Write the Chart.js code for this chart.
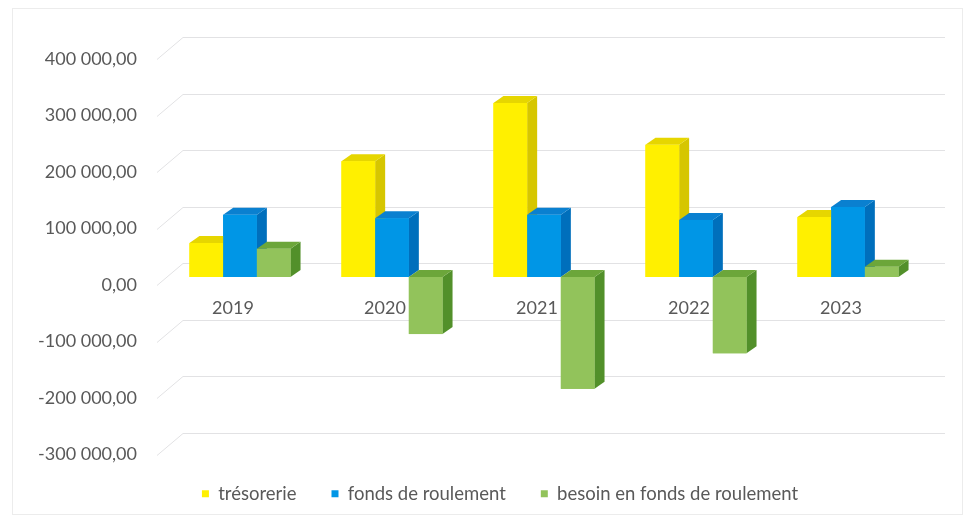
<!DOCTYPE html>
<html>
<head>
<meta charset="utf-8">
<script src="https://cdn.jsdelivr.net/npm/chart.js@4.4.1/dist/chart.umd.min.js"></script>
<style>
  html, body { margin: 0; padding: 0; background: #fff; }
</style>
</head>
<body>
<canvas id="chart" width="970" height="521"></canvas>
<script>
const years = ['2019', '2020', '2021', '2022', '2023'];
const tresorerie = [60000, 205000, 308000, 234000, 106000];
const fondsRoulement = [110000, 104000, 110000, 101000, 124000];
const besoinFonds = [50000, -101000, -198000, -135000, 18000];
const yMin = -300000;
const yMax = 400000;
const yStep = 100000;

const textColor = '#595959';
const axisFont = { family: 'Lato', size: 18 };
const legendFont = { family: 'Lato', size: 18.5 };

// front / side / top colours for the fake 3D boxes
const faces = [
  { front: '#FFF000', side: '#D6C600', top: '#E6D600' },
  { front: '#0096E6', side: '#006FBC', top: '#0A80D0' },
  { front: '#92C35B', side: '#52902A', top: '#6CA63A' },
];
const DX = 10, DY = -7;

function fmt(v) {
  const parts = Math.abs(v).toFixed(2).split('.');
  const int = parts[0].replace(/\B(?=(\d{3})+(?!\d))/g, ' ');
  return (v < 0 ? '-' : '') + int + ',' + parts[1];
}

function poly(ctx, pts, color) {
  ctx.fillStyle = color;
  ctx.beginPath();
  ctx.moveTo(pts[0][0], pts[0][1]);
  for (let k = 1; k < pts.length; k++) ctx.lineTo(pts[k][0], pts[k][1]);
  ctx.closePath();
  ctx.fill();
}

const backGrid = {
  id: 'backGrid',
  afterLayout(chart) {
    // legend sits right of centre in the original
    const l = chart.legend;
    l.left += 38; l.right += 38;
    l.top += 3; l.bottom += 3;
  },
  beforeDraw(chart) {
    const ctx = chart.ctx;
    ctx.save();
    ctx.strokeStyle = '#ececec';
    ctx.lineWidth = 1;
    ctx.strokeRect(12.5, 8.5, 950, 506);
    ctx.restore();
  },
  beforeDatasetsDraw(chart) {
    const { ctx, chartArea: a, scales: { y } } = chart;
    ctx.save();
    ctx.strokeStyle = '#e2e2e4';
    ctx.lineWidth = 1;
    y.ticks.forEach(t => {
      const py = Math.round(y.getPixelForValue(t.value)) + 0.5;
      ctx.beginPath();
      ctx.moveTo(a.left - 7, py + 8);
      ctx.lineTo(a.left + 19, py - 14);
      ctx.lineTo(a.right + 21, py - 14);
      ctx.stroke();
    });
    ctx.restore();
  }
};

const bars3d = {
  id: 'bars3d',
  afterDatasetsDraw(chart) {
    const ctx = chart.ctx;
    ctx.save();
    for (let i = 0; i < chart.data.labels.length; i++) {
      chart.data.datasets.forEach((ds, d) => {
        const el = chart.getDatasetMeta(d).data[i];
        const { x, y, base, width } = el.getProps(['x', 'y', 'base', 'width'], true);
        const x1 = x - width / 2, x2 = x + width / 2;
        const top = Math.min(y, base), bot = Math.max(y, base);
        const c = faces[d];
        poly(ctx, [[x2, top], [x2 + DX, top + DY], [x2 + DX, bot + DY], [x2, bot]], c.side);
        poly(ctx, [[x1, top], [x2, top], [x2 + DX, top + DY], [x1 + DX, top + DY]], c.top);
        ctx.fillStyle = c.front;
        ctx.fillRect(x1, top, width, bot - top);
      });
    }
    ctx.restore();
  }
};

new Chart(document.getElementById('chart'), {
  type: 'bar',
  data: {
    labels: years,
    datasets: [
      { label: 'trésorerie', data: tresorerie, backgroundColor: faces[0].front },
      { label: 'fonds de roulement', data: fondsRoulement, backgroundColor: faces[1].front },
      { label: 'besoin en fonds de roulement', data: besoinFonds, backgroundColor: faces[2].front },
    ]
  },
  options: {
    responsive: false,
    animation: false,
    datasets: { bar: { categoryPercentage: 0.665, barPercentage: 1, borderWidth: 0 } },
    layout: { padding: { top: 51, right: 46, bottom: 11, left: 0 } },
    plugins: {
      legend: {
        position: 'bottom',
        labels: { boxWidth: 7, boxHeight: 7, padding: 35, color: textColor, font: legendFont }
      },
      tooltip: { enabled: false }
    },
    scales: {
      x: {
        position: { y: 0 },
        grid: { display: false, drawTicks: false },
        border: { display: false },
        ticks: { padding: 20, labelOffset: -7, color: textColor, font: axisFont }
      },
      y: {
        min: yMin,
        max: yMax,
        afterFit(scale) { scale.width = 164; },
        grid: { display: false, drawTicks: false },
        border: { display: false },
        ticks: {
          stepSize: yStep,
          padding: 27,
          labelOffset: 8,
          color: textColor,
          font: axisFont,
          callback: v => fmt(v)
        }
      }
    }
  },
  plugins: [backGrid, bars3d]
});
</script>
</body>
</html>
